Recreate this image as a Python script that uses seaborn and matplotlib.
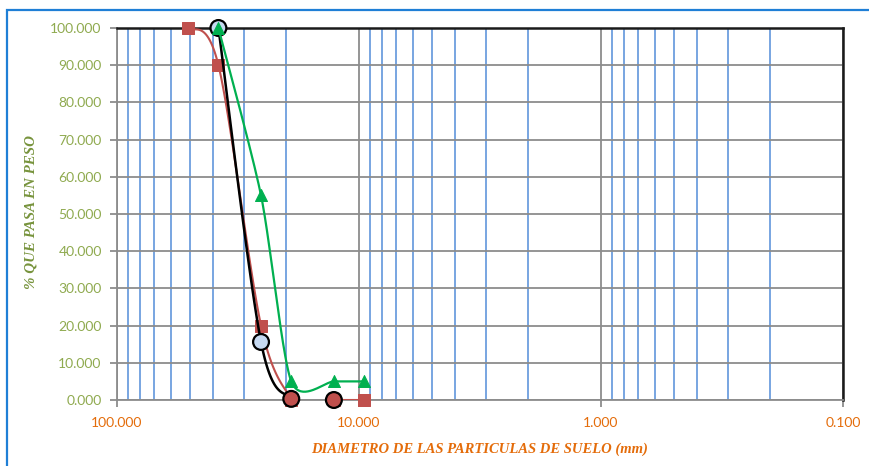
import numpy as np
import pandas as pd
import matplotlib
matplotlib.use("Agg")
import matplotlib.pyplot as plt
from matplotlib.patches import Rectangle
from matplotlib.ticker import FixedLocator, NullFormatter
import seaborn as sns

# Sieve openings (mm) and percent passing for each sample
sieve_mm = [50.8, 38.1, 25.4, 19.05, 12.7, 9.525]
red_pct = [100.0, 90.0, 20.0, 0.0, 0.0, 0.0]
green_pct = [np.nan, 100.0, 55.0, 5.0, 5.0, 5.0]
black_pct = [np.nan, 100.0, 15.6, 0.3, 0.0, np.nan]
black_fill = ["#c6d9f1", "#c6d9f1", "#c0504d", "#c0504d"]

x_ticks = [100, 10, 1, 0.1]
x_ticklabels = ["100.000", "10.000", "1.000", "0.100"]
y_ticks = list(range(0, 101, 10))
y_ticklabels = [f"{v:.3f}" for v in y_ticks]

RED = "#c0504d"
GREEN = "#00b050"
TICK_X = "#e46c0a"
TICK_Y = "#8faa4f"
LABEL_Y = "#77933c"
GRID_BLUE = "#6d9ede"
GRID_GRAY = "#8c8c8c"

sns.set_theme(style="white")
plt.rcParams["font.family"] = ["Lato", "DejaVu Sans"]

W, H = 869, 466
fig = plt.figure(figsize=(W / 100, H / 100), dpi=100)
ax = fig.add_axes([117 / W, 1 - 400 / H, (843 - 117) / W, (400 - 28) / H])

# Axis scaling used for smoothing (pixels per decade / per percent)
PX_DEC, PX_PCT = 242.0, 3.72


def smooth(xs, ys, k=6.0, n=40):
    """Cardinal-spline smoothing of a polyline in display-like units."""
    u = np.log10(np.asarray(xs, float)) * PX_DEC
    v = np.asarray(ys, float) * PX_PCT
    P = np.column_stack([u, v])
    P = np.vstack([P[0], P, P[-1]])
    out = []
    for i in range(1, len(P) - 2):
        p0, p1, p2, p3 = P[i - 1], P[i], P[i + 1], P[i + 2]
        c1 = p1 + (p2 - p0) / k
        c2 = p2 - (p3 - p1) / k
        t = np.linspace(0, 1, n)[:, None]
        seg = ((1 - t) ** 3) * p1 + 3 * ((1 - t) ** 2) * t * c1 + 3 * (1 - t) * t ** 2 * c2 + t ** 3 * p2
        out.append(seg if i == 1 else seg[1:])
    seg = np.vstack(out)
    return pd.DataFrame({"x": 10 ** (seg[:, 0] / PX_DEC), "y": seg[:, 1] / PX_PCT})


def curve(xs, ys, color, lw, z, k=6.0):
    d = smooth(xs, ys, k=k)
    sns.lineplot(data=d, x="x", y="y", sort=False, estimator=None, color=color,
                 linewidth=lw, ax=ax, zorder=z)


ax.set_xscale("log")

# red sample
curve(sieve_mm[:4], red_pct[:4], RED, 1.5, 3)
sns.lineplot(x=sieve_mm[4:], y=red_pct[4:], color=RED, linewidth=1.5, ax=ax, zorder=3, estimator=None)
sns.scatterplot(x=sieve_mm, y=red_pct, marker="s", s=80, color=RED, edgecolor=RED,
                ax=ax, zorder=4, clip_on=False)

# black sample
bx = [x for x, y in zip(sieve_mm, black_pct) if not np.isnan(y)]
by = [y for y in black_pct if not np.isnan(y)]
curve(bx[:3], by[:3], "black", 1.8, 5)
sns.scatterplot(x=bx, y=by, marker="o", s=130, color=black_fill, edgecolor="black",
                linewidth=1.6, ax=ax, zorder=6, clip_on=False)

# green sample
gx = [x for x, y in zip(sieve_mm, green_pct) if not np.isnan(y)]
gy = [y for y in green_pct if not np.isnan(y)]
curve(gx, gy, GREEN, 1.6, 7, k=8.0)
sns.scatterplot(x=gx, y=gy, marker="^", s=75, color=GREEN, edgecolor=GREEN,
                ax=ax, zorder=8, clip_on=False)

ax.set_xlim(100, 0.1)
ax.set_ylim(0, 100)

# grid: blue minor verticals, gray decade verticals, gray horizontals
ax.xaxis.set_major_locator(FixedLocator(x_ticks))
ax.set_xticklabels(x_ticklabels)
minor = [m * 10.0 ** e for e in (-1, 0, 1) for m in range(2, 10)]
ax.xaxis.set_minor_locator(FixedLocator(minor))
ax.xaxis.set_minor_formatter(NullFormatter())
ax.set_yticks(y_ticks)
ax.set_yticklabels(y_ticklabels)
ax.grid(which="minor", axis="x", color=GRID_BLUE, linewidth=1.3)
ax.grid(which="major", axis="x", color=GRID_GRAY, linewidth=1.3)
ax.grid(which="major", axis="y", color=GRID_GRAY, linewidth=1.3)
ax.set_axisbelow(True)

for side in ("left", "bottom"):
    ax.spines[side].set_color(GRID_GRAY)
    ax.spines[side].set_linewidth(1.3)
for side in ("top", "right"):
    ax.spines[side].set_color("#1a1a1a")
    ax.spines[side].set_linewidth(1.8)

ax.tick_params(axis="both", which="major", direction="out", length=5, width=1.3,
               color=GRID_GRAY, left=True, bottom=True)
ax.tick_params(axis="x", which="minor", length=0)
ax.tick_params(axis="y", pad=6, labelsize=10, labelcolor=TICK_Y)
ax.tick_params(axis="x", pad=7, labelsize=10, labelcolor=TICK_X)

serif = ["Liberation Serif", "DejaVu Serif"]
ax.set_xlabel("DIAMETRO DE LAS PARTICULAS DE SUELO (mm)", color=TICK_X, fontsize=10.5,
              fontweight="bold", fontstyle="italic", family=serif)
ax.set_ylabel("% QUE PASA EN PESO", color=LABEL_Y, fontsize=10.8, fontweight="bold",
              fontstyle="italic", family=serif)
ax.xaxis.set_label_coords((480 - 117) / (843 - 117), -(443 - 400) / 372)
ax.yaxis.set_label_coords(-(117 - 38) / 726, (400 - 212) / 372)

# chart border
fig.add_artist(Rectangle((7 / W, -0.1), 1.1, 1.1 - 10 / H, transform=fig.transFigure,
                         fill=False, edgecolor="#1f7fd6", linewidth=1.6))

fig.savefig("out.png", dpi=100, facecolor="white")
